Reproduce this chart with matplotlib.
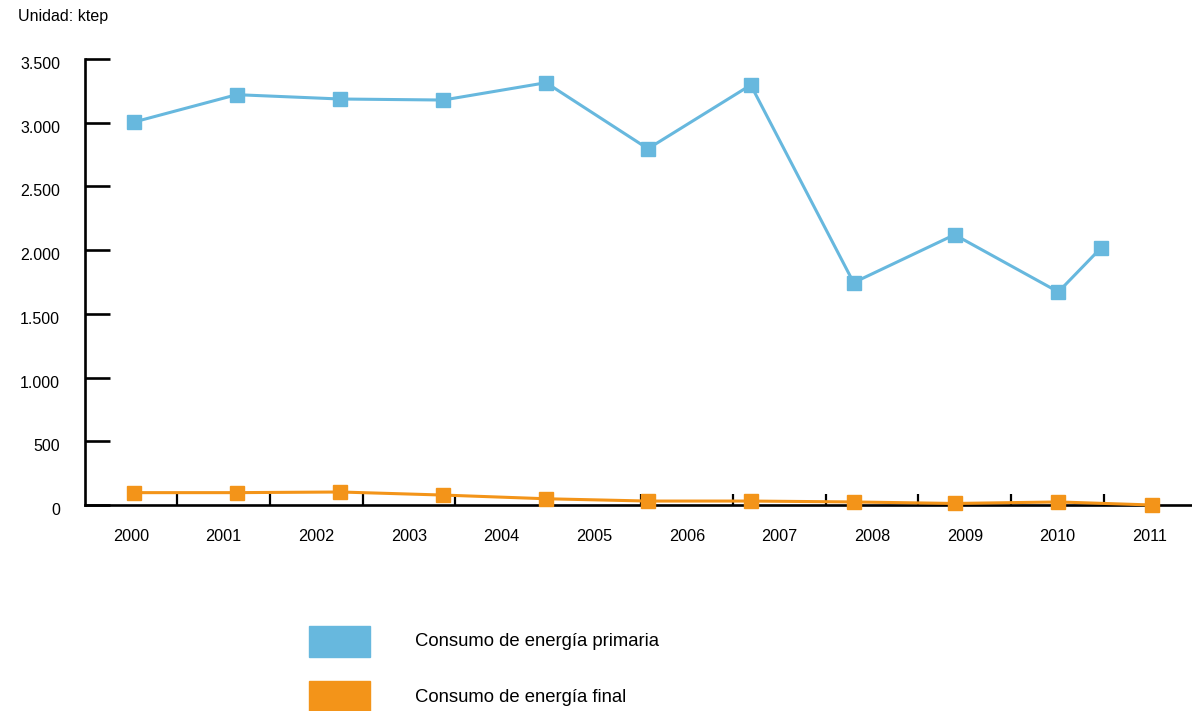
import matplotlib
matplotlib.use('agg')
import matplotlib.pyplot as plt
import matplotlib.transforms as mtransforms
from matplotlib.patches import Rectangle
from matplotlib.ticker import FixedLocator, FuncFormatter


BLUE = '#67b8de'
ORANGE = '#f39419'

YEARS = list(range(2000, 2012))

# Point positions along the year axis and values (ktep) for each series.
primary_x = [2000.03, 2001.14, 2002.26, 2003.37, 2004.48, 2005.58,
             2006.69, 2007.80, 2008.89, 2010.01, 2010.47]
primary_ktep = [3005, 3220, 3186, 3178, 3314, 2796, 3296, 1745, 2121,
                1672, 2017]

final_x = [2000.03, 2001.14, 2002.26, 2003.37, 2004.48, 2005.58,
           2006.69, 2007.80, 2008.89, 2010.01, 2011.02]
final_ktep = [97, 97, 102, 78, 49, 31, 31, 24, 12, 24, 0]

Y_TICKS = [0, 500, 1000, 1500, 2000, 2500, 3000, 3500]

LEGEND = [('Consumo de energía primaria', BLUE),
          ('Consumo de energía final', ORANGE)]


def thousands(v, pos=None):
    return '{:,.0f}'.format(v).replace(',', '.')


def energy_chart():
    plt.rcParams['font.family'] = ['Liberation Sans', 'DejaVu Sans']
    W, H = 1192, 711
    fig = plt.figure(figsize=(W / 100, H / 100), dpi=100)

    # axes box in pixels: left spine at x=85, zero line at y=505, top at y=59
    ax = fig.add_axes([85 / W, (H - 505) / H, (W - 85) / W, (505 - 59) / H])

    ax.plot(primary_x, primary_ktep, color=BLUE, lw=2.2, marker='s',
            ms=10, mec=BLUE, clip_on=False, zorder=4)
    ax.plot(final_x, final_ktep, color=ORANGE, lw=2.2, marker='s',
            ms=10, mec=ORANGE, clip_on=False, zorder=4)

    ax.set_ylim(0, 3500)
    ax.set_xlim(1999.503, 2011.453)

    for side in ('top', 'right'):
        ax.spines[side].set_visible(False)
    for side in ('left', 'bottom'):
        ax.spines[side].set_linewidth(1.9)
        ax.spines[side].set_color('black')

    ax.yaxis.set_major_locator(FixedLocator(Y_TICKS))
    ax.yaxis.set_major_formatter(FuncFormatter(thousands))
    ax.tick_params(axis='y', direction='in', length=18, width=1.9,
                   pad=18, labelsize=11.5, colors='black')
    offset = mtransforms.ScaledTranslation(0, -4 / 100, fig.dpi_scale_trans)
    for lbl in ax.get_yticklabels():
        lbl.set_transform(lbl.get_transform() + offset)

    # year labels sit between the tick marks, which fall on half years
    ax.set_xticks(YEARS)
    ax.set_xticklabels([str(y) for y in YEARS])
    ax.set_xticks([y + 0.5 for y in YEARS[:-1]], minor=True)
    ax.tick_params(axis='x', which='major', length=0, pad=17,
                   labelsize=11.7, colors='black')
    ax.tick_params(axis='x', which='minor', direction='in', length=8,
                   width=1.6, color='black')

    fig.text(18 / W, 1 - 16 / H, 'Unidad: ktep', fontsize=11.5,
             ha='left', va='center')

    for i, (label, color) in enumerate(LEGEND):
        top = 626 + i * 55
        fig.patches.append(Rectangle((309 / W, 1 - (top + 31) / H),
                                     61 / W, 31 / H, color=color,
                                     transform=fig.transFigure))
        fig.text(415 / W, 1 - (top + 16) / H, label, fontsize=13.3,
                 ha='left', va='center')

    return fig


if __name__ == '__main__':
    fig = energy_chart()
    fig.savefig('out.png', dpi=100)
